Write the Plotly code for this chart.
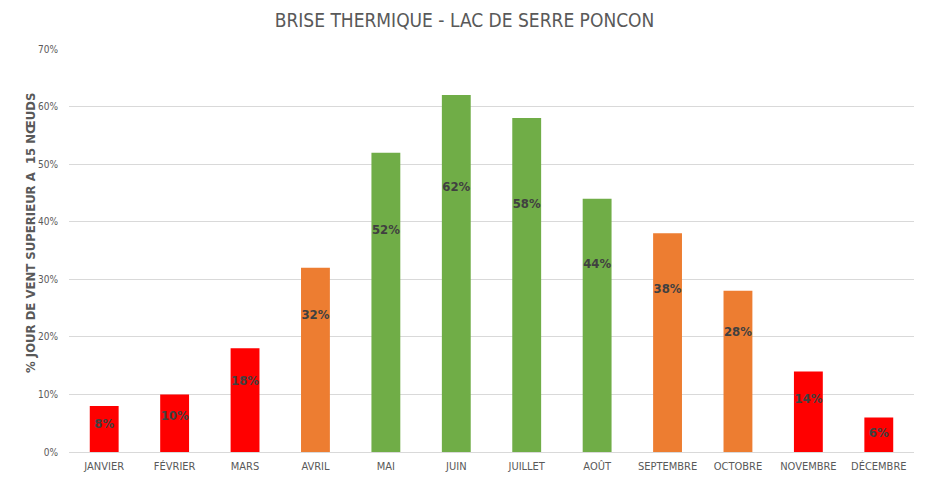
import plotly.graph_objects as go

months = ["JANVIER", "FÉVRIER", "MARS", "AVRIL", "MAI", "JUIN", "JUILLET",
          "AOÛT", "SEPTEMBRE", "OCTOBRE", "NOVEMBRE", "DÉCEMBRE"]
values = [0.08, 0.10, 0.18, 0.32, 0.52, 0.62, 0.58, 0.44, 0.38, 0.28, 0.14, 0.06]
colors = ["#FF0000", "#FF0000", "#FF0000", "#ED7D31", "#70AD47", "#70AD47",
          "#70AD47", "#70AD47", "#ED7D31", "#ED7D31", "#FF0000", "#FF0000"]
y_ticks = [0, 0.1, 0.2, 0.3, 0.4, 0.5, 0.6, 0.7]

FONT = "DejaVu Sans Condensed, sans-serif"

fig = go.Figure()
fig.add_trace(go.Bar(
    x=months, y=values, marker=dict(color=colors, line=dict(width=0)),
    hoverinfo="skip", showlegend=False,
))
fig.add_trace(go.Scatter(
    x=months, y=[v * 0.74 - 0.012 * (v < 0.2) for v in values], mode="text",
    text=[f"{round(v*100)}%" for v in values],
    textfont=dict(family=FONT, size=13, color="#404040", weight="bold"),
    hoverinfo="skip", showlegend=False,
))

fig.update_layout(
    width=929, height=481,
    margin=dict(l=69, r=15, t=49, b=29),
    paper_bgcolor="white", plot_bgcolor="white",
    bargap=0.59,
    title=dict(text="BRISE THERMIQUE - LAC DE SERRE PONCON", x=0.5, xanchor="center",
               y=1 - 20 / 481, yanchor="middle",
               font=dict(family=FONT, size=19, color="#595959")),
    font=dict(family=FONT, color="#595959"),
    annotations=[dict(
        text="% JOUR DE VENT SUPERIEUR A  15 NŒUDS", textangle=-90,
        xref="paper", yref="paper", x=-39 / 845, y=(452 - 233) / 403,
        xanchor="center", yanchor="middle", showarrow=False,
        font=dict(size=13, color="#595959", weight="bold", family=FONT),
    )],
)
fig.update_xaxes(showgrid=False, showline=False, ticks="", automargin=False,
                 range=[-0.5, len(months) - 0.5], ticklabelstandoff=6,
                 tickfont=dict(size=11, color="#595959"))
fig.update_yaxes(range=[0, 0.7], tickvals=y_ticks, automargin=False,
                 ticktext=[f"{round(t*100)}%" for t in y_ticks],
                 showgrid=True, gridcolor="#D9D9D9", gridwidth=1,
                 zeroline=True, zerolinecolor="#D9D9D9", zerolinewidth=1,
                 tickfont=dict(size=10, color="#595959"), ticklabelstandoff=10)

fig.write_html("out.html")
